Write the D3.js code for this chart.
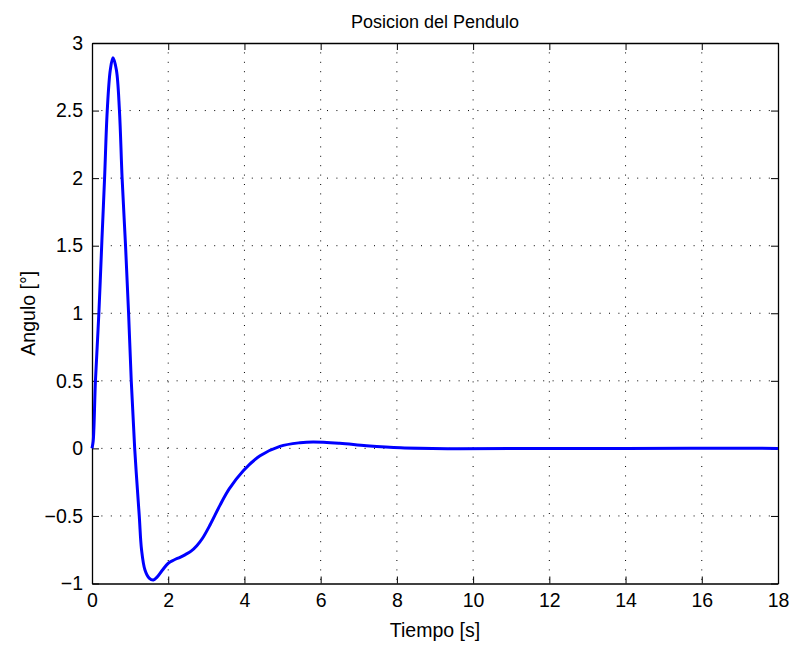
<!DOCTYPE html>
<html>
<head>
<meta charset="utf-8">
<script src="https://cdn.jsdelivr.net/npm/d3@7"></script>
<style>
  body { margin: 0; background: #fff; }
  text { font-family: "Liberation Sans", Arial, sans-serif; fill: #000; }
</style>
</head>
<body>
<div id="chartContainer"></div>
<script>
// Pendulum angle response
const time  = [0, 0.03, 0.05, 0.09, 0.18, 0.26, 0.33, 0.40, 0.48, 0.55, 0.64, 0.72, 0.79, 0.88, 0.96, 1.03, 1.12, 1.24, 1.30, 1.39, 1.50, 1.61, 1.70, 1.85, 2.0, 2.15, 2.31, 2.45, 2.60, 2.75, 2.90, 3.10, 3.36, 3.60, 3.97, 4.41, 4.93, 5.46, 5.80, 6.50, 7.20, 8.10, 9.40, 11, 14, 18];
const angle = [0, 0.05, 0.15, 0.5, 1.0, 1.54, 2.0, 2.5, 2.8, 2.89, 2.8, 2.5, 2.0, 1.5, 1.0, 0.5, 0, -0.5, -0.75, -0.9, -0.96, -0.974, -0.955, -0.90, -0.85, -0.826, -0.806, -0.786, -0.76, -0.72, -0.665, -0.565, -0.42, -0.30, -0.165, -0.055, 0.015, 0.042, 0.048, 0.038, 0.02, 0.004, -0.002, -0.001, 0, 0];

const xTicks = [0, 2, 4, 6, 8, 10, 12, 14, 16, 18];
const yTicks = [-1, -0.5, 0, 0.5, 1, 1.5, 2, 2.5, 3];

const title = "Posicion del Pendulo";
const xLabel = "Tiempo [s]";
const yLabel = "Angulo [°]";

const svgWidth = 794;
const svgHeight = 645;
const margin = { top: 43, right: 16, bottom: 61.5, left: 92 };
const chartWidth = svgWidth - margin.left - margin.right;
const chartHeight = svgHeight - margin.top - margin.bottom;

const svg = d3.select("#chartContainer")
              .append("svg")
              .attr("width", svgWidth)
              .attr("height", svgHeight);

const xScale = d3.scaleLinear()
                 .domain([0, 18])
                 .range([margin.left, margin.left + chartWidth]);

const yScale = d3.scaleLinear()
                 .domain([-1, 3])
                 .range([margin.top + chartHeight, margin.top]);

const fmt = d => (d < 0 ? "\u2212" + Math.abs(d) : String(d));

// dotted grid
const grid = svg.append("g")
                .attr("stroke", "#000")
                .attr("stroke-width", 1)
                .attr("stroke-dasharray", "1,8.4");

grid.selectAll("line.gx")
    .data(xTicks.slice(1, -1))
    .enter()
    .append("line")
    .attr("x1", d => xScale(d)).attr("x2", d => xScale(d))
    .attr("y1", yScale(3)).attr("y2", yScale(-1));

grid.selectAll("line.gy")
    .data(yTicks.slice(1, -1))
    .enter()
    .append("line")
    .attr("x1", xScale(0)).attr("x2", xScale(18))
    .attr("y1", d => yScale(d)).attr("y2", d => yScale(d));

// axes with inward ticks (box on all sides)
const tickLen = 7;
svg.append("g")
   .attr("transform", `translate(0, ${yScale(-1)})`)
   .call(d3.axisBottom(xScale).tickValues(xTicks).tickFormat(fmt).tickSizeInner(-tickLen).tickSizeOuter(0).tickPadding(10))
   .call(g => g.selectAll("text").style("font-size", "19.5px"));

svg.append("g")
   .attr("transform", `translate(${xScale(0)}, 0)`)
   .call(d3.axisLeft(yScale).tickValues(yTicks).tickFormat(fmt).tickSizeInner(-tickLen).tickSizeOuter(0).tickPadding(9))
   .call(g => g.selectAll("text").style("font-size", "19.5px"));

svg.append("g")
   .attr("transform", `translate(0, ${yScale(3)})`)
   .call(d3.axisTop(xScale).tickValues(xTicks).tickFormat("").tickSizeInner(-tickLen).tickSizeOuter(0));

svg.append("g")
   .attr("transform", `translate(${xScale(18)}, 0)`)
   .call(d3.axisRight(yScale).tickValues(yTicks).tickFormat("").tickSizeInner(-tickLen).tickSizeOuter(0));

svg.selectAll(".domain").attr("stroke", "#000").attr("stroke-width", 1.3);
svg.selectAll(".tick line").attr("stroke", "#000").attr("stroke-width", 1);

// response line
const points = time.map((t, i) => ({ t: t, v: angle[i] }));
const line = d3.line()
               .x(d => xScale(d.t))
               .y(d => yScale(d.v))
               .curve(d3.curveCatmullRom.alpha(0.5));

svg.append("path")
   .datum(points)
   .attr("fill", "none")
   .attr("stroke", "#0000ff")
   .attr("stroke-width", 3)
   .attr("stroke-linejoin", "round")
   .attr("d", line);

// title and labels
svg.append("text")
   .attr("x", (xScale(0) + xScale(18)) / 2)
   .attr("y", 28)
   .attr("text-anchor", "middle")
   .style("font-size", "18px")
   .text(title);

svg.append("text")
   .attr("x", (xScale(0) + xScale(18)) / 2)
   .attr("y", 637)
   .attr("text-anchor", "middle")
   .style("font-size", "19.5px")
   .text(xLabel);

svg.append("text")
   .attr("transform", `translate(35, ${(yScale(3) + yScale(-1)) / 2}) rotate(-90)`)
   .attr("text-anchor", "middle")
   .style("font-size", "19.5px")
   .text(yLabel);
</script>
</body>
</html>
